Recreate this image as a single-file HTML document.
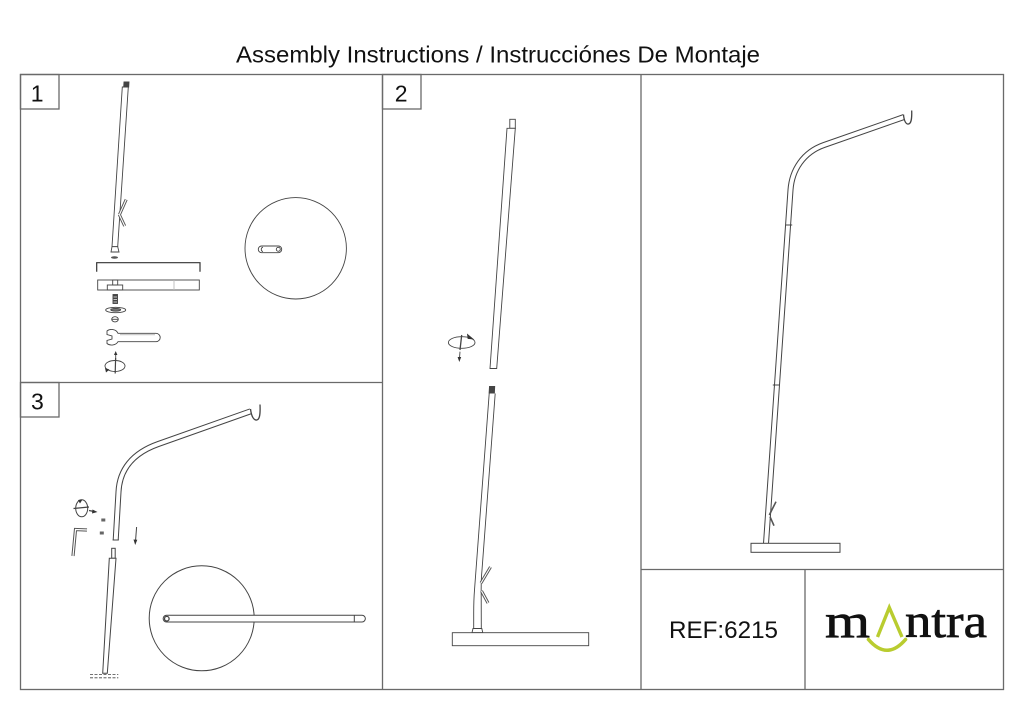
<!DOCTYPE html>
<html>
<head>
<meta charset="utf-8">
<style>
  html,body{margin:0;padding:0;background:#fff;}
  svg{display:block;}
  text{font-family:"Liberation Sans",Arial,sans-serif;}
</style>
</head>
<body>
<svg width="1024" height="708" viewBox="0 0 1024 708" xmlns="http://www.w3.org/2000/svg">
  <rect x="0" y="0" width="1024" height="708" fill="#fff"/>

  <!-- Title -->
  <text x="236" y="62.5" font-size="23.5" fill="#111" textLength="524" lengthAdjust="spacingAndGlyphs">Assembly Instructions / Instrucciónes De Montaje</text>

  <!-- Frame -->
  <g fill="none" stroke="#6a6a6a" stroke-width="1.3">
    <rect x="20.5" y="74.5" width="983" height="615"/>
    <line x1="382.5" y1="74" x2="382.5" y2="690"/>
    <line x1="20" y1="382.5" x2="383" y2="382.5"/>
    <line x1="641" y1="74" x2="641" y2="690"/>
    <line x1="641" y1="569.5" x2="1004" y2="569.5"/>
    <line x1="805" y1="569.5" x2="805" y2="690"/>
    <rect x="20.5" y="74.5" width="38.5" height="34.5"/>
    <rect x="382.5" y="74.5" width="38.5" height="34.5"/>
    <rect x="20.5" y="382.5" width="38.5" height="34.5"/>
  </g>
  <text x="37.2" y="101.7" font-size="23" text-anchor="middle" fill="#111">1</text>
  <text x="401.2" y="101.7" font-size="23" text-anchor="middle" fill="#111">2</text>
  <text x="37.4" y="409.7" font-size="23" text-anchor="middle" fill="#111">3</text>

  <!-- ================= PANEL 1 ================= -->
  <g stroke="#444" stroke-width="0.9" fill="none">
    <!-- threaded cap -->
    <polygon points="124,82 129,82 128.7,87 123.7,87" fill="#444"/>
    <!-- pole -->
    <polygon points="122.3,87 128.3,87 117.7,246.7 112,246.7" fill="#fff"/>
    <!-- foot -->
    <polygon points="112,246.7 117.7,246.7 119,252 111,252" fill="#fff"/>
    <!-- washer -->
    <ellipse cx="114.5" cy="257.5" rx="3.5" ry="1.3" fill="#555" stroke="none"/>
    <!-- bracket -->
    <path d="M96.7,271.7 V262.7 H200 V271.7" stroke="#333" stroke-width="1.2"/>
    <!-- base side view -->
    <rect x="97.7" y="280" width="101.6" height="10" fill="#fff"/>
    <rect x="107.3" y="285" width="15.4" height="5"/>
    <rect x="112.7" y="280" width="5" height="5"/>
    <line x1="174" y1="280" x2="174" y2="290" stroke="#bbb"/>
    <!-- bolt -->
    <rect x="113" y="294.5" width="4.5" height="9" fill="#444"/>
    <g stroke="#fff" stroke-width="0.7">
      <line x1="113.5" y1="297" x2="117" y2="297"/>
      <line x1="113.5" y1="299.5" x2="117" y2="299.5"/>
      <line x1="113.5" y1="302" x2="117" y2="302"/>
    </g>
    <!-- washer -->
    <ellipse cx="115.7" cy="310" rx="10" ry="2.7"/>
    <ellipse cx="115.7" cy="309.8" rx="5" ry="1.4" fill="#777"/>
    <!-- nut -->
    <ellipse cx="115" cy="319.3" rx="3.3" ry="2.6"/>
    <line x1="112" y1="319.3" x2="118" y2="319.3"/>
    <!-- wrench -->
    <path d="M118,333.3 L156,333.3 A4.2,4.2 0 0 1 156,341.7 L118,341.7 C116,345.5 110,346 107,343.5 L107,340.5 L112,339 L112,336 L107,334.5 L107,331 C110,328.5 116,329 118,333.3 Z" fill="#fff"/>
    <line x1="120" y1="334.8" x2="155" y2="334.8" stroke="#999" stroke-width="0.6"/>
    <!-- rotation symbol -->
    <line x1="115.7" y1="360" x2="115.7" y2="354"/>
    <polygon points="115.7,351 114,355 117.4,355" fill="#333" stroke="none"/>
    <ellipse cx="115" cy="366" rx="10" ry="5.5"/>
    <line x1="115.6" y1="358" x2="115.2" y2="373.5" stroke-width="1.2"/>
    <polygon points="105,368 109.5,369.5 106,372.5" fill="#333" stroke="none"/>
    <!-- top view circle -->
    <circle cx="295.7" cy="248.3" r="50.7"/>
    <rect x="258.3" y="246" width="23.4" height="6.7" rx="3.3" fill="#fff"/>
    <path d="M263,247.2 A2.2,2.2 0 0 0 263,251.5" />
    <circle cx="278.3" cy="249.3" r="2"/>
  </g>
  <!-- Y branch panel 1 -->
  <g fill="none" stroke-linecap="butt">
    <path d="M119.5,214.5 L126.2,199.5 M119.3,214.5 L124.7,226" stroke="#555" stroke-width="3"/>
    <path d="M119.5,214.5 L126.2,199.5 M119.3,214.5 L124.7,226" stroke="#fff" stroke-width="1.1"/>
  </g>

  <!-- ================= PANEL 2 ================= -->
  <g stroke="#444" stroke-width="0.9" fill="none">
    <rect x="509.8" y="119.3" width="5.5" height="9" fill="#fff"/>
    <polygon points="507,128.3 515.3,128.3 496.7,368.5 490,368.5" fill="#fff"/>
    <!-- rotation symbol -->
    <ellipse cx="461.7" cy="342.5" rx="13.3" ry="5.8"/>
    <line x1="461.7" y1="335" x2="460" y2="350" stroke-width="1.3"/>
    <polygon points="473,339 467.5,334.5 468,338.5" fill="#333" stroke="#333" stroke-width="0.8"/>
    <line x1="460" y1="351.7" x2="459.5" y2="358"/>
    <polygon points="459.3,362 457.6,357 461.2,357" fill="#333" stroke="none"/>
    <!-- lower threaded top -->
    <polygon points="489.5,386.5 494.7,386.5 494.4,393 489.1,393" fill="#444"/>
    <!-- lower tube -->
    <path d="M489.2,393.5 L474.5,590 Q473.7,600 473.7,613 L473.7,629"/>
    <path d="M495.2,393.5 L482,570 Q481,580 481.2,595 L481.3,629"/>
    <polygon points="473,628.5 481.8,628.5 482.8,632.7 472,632.7" fill="#fff"/>
    <rect x="452.3" y="632.7" width="136.4" height="13" fill="#fff"/>
  </g>
  <g fill="none">
    <path d="M481,583 L490.5,567 M481.5,591 L488,603" stroke="#555" stroke-width="3"/>
    <path d="M481,583 L490.5,567 M481.5,591 L488,603" stroke="#fff" stroke-width="1.1"/>
  </g>

  <!-- ================= PANEL 3 ================= -->
  <!-- curved arm -->
  <path d="M250.7,411.3 L158.3,444 C132.3,453.2 119.5,470 118.5,492 L115.7,540" fill="none" stroke="#444" stroke-width="6"/>
  <path d="M250.7,411.3 L158.3,444 C132.3,453.2 119.5,470 118.5,492 L115.7,540" fill="none" stroke="#fff" stroke-width="4"/>
  <g stroke="#444" stroke-width="1" fill="none">
    <line x1="112.6" y1="540" x2="118.8" y2="540"/>
    <!-- hook -->
    <path d="M250.5,409 C251.5,417 254,420.5 256.8,420 C259.5,419.5 260.5,415 260,404.5" stroke-width="1.3"/>
    <!-- rotation symbol -->
    <ellipse cx="81.7" cy="508.3" rx="6" ry="8.5"/>
    <line x1="73.5" y1="508.5" x2="89" y2="507" stroke-width="1.2"/>
    <line x1="89" y1="510.5" x2="94" y2="511.5" stroke-width="1.2"/>
    <polygon points="97.5,512 92.5,509.5 92,513.5" fill="#333" stroke="none"/>
    <polygon points="78,500 82.5,499.5 80,503.5" fill="#333" stroke="none"/>
    <!-- grub screws -->
    <rect x="101.3" y="518.5" width="4" height="3" fill="#666" stroke="none"/>
    <rect x="99.8" y="531.5" width="4" height="3" fill="#666" stroke="none"/>
    <!-- down arrow -->
    <line x1="136.6" y1="527" x2="135.6" y2="540"/>
    <polygon points="135.2,545 133.5,539.5 137.3,539.8" fill="#333" stroke="none"/>
    <!-- lower tube -->
    <rect x="111.7" y="548.3" width="3.5" height="10" fill="#fff"/>
    <polygon points="109.3,558.3 116,558.3 107.3,673.3 102.7,673.3" fill="#fff"/>
    <line x1="90" y1="674.5" x2="118.3" y2="674.5" stroke-dasharray="3,1.5" stroke-width="0.8"/>
    <line x1="90" y1="677.8" x2="118.3" y2="677.8" stroke-dasharray="3,1.5" stroke-width="0.8"/>
    <!-- circle + horizontal tube -->
    <circle cx="201.7" cy="618.3" r="52.5"/>
    <path d="M166.5,615.3 H362 A3.35,3.35 0 0 1 362,622 H166.5 A3.35,3.35 0 0 1 166.5,615.3 Z" fill="#fff"/>
    <line x1="354.3" y1="615.3" x2="354.3" y2="622"/>
    <circle cx="166.8" cy="618.7" r="2.3" stroke-width="1.3"/>
  </g>
  <!-- allen key -->
  <path d="M87,530 L75.5,529.5 L73,556" fill="none" stroke="#555" stroke-width="3.2" stroke-linejoin="miter"/>
  <path d="M87,530 L75.5,529.5 L73,556" fill="none" stroke="#fff" stroke-width="1.2"/>

  <!-- ================= RIGHT PANEL ================= -->
  <path d="M904,117 L824,145 C803.2,152.3 791.9,170 790.5,190 L766,543.5" fill="none" stroke="#444" stroke-width="6"/>
  <path d="M904,117 L824,145 C803.2,152.3 791.9,170 790.5,190 L766,543.5" fill="none" stroke="#fff" stroke-width="4"/>
  <g stroke="#444" stroke-width="1" fill="none">
    <path d="M903.5,114.5 C904,121 906,124.5 908.5,124 C911,123.5 912,120 911.7,110.5" stroke-width="1.3"/>
    <line x1="785.8" y1="225" x2="792.2" y2="225"/>
    <line x1="772.8" y1="385" x2="779" y2="385"/>
    <line x1="769.3" y1="515" x2="776" y2="501.7" stroke="#555" stroke-width="1.6"/>
    <line x1="770" y1="516.7" x2="774" y2="525.7" stroke="#555" stroke-width="1.6"/>
    <rect x="751" y="543.3" width="89" height="9" fill="#fff"/>
  </g>

  <!-- REF -->
  <text x="669" y="638" font-size="24" fill="#111" textLength="109" lengthAdjust="spacingAndGlyphs">REF:6215</text>

  <!-- mantra logo -->
  <g font-family="'Liberation Serif',serif" fill="#111" stroke="#111" stroke-width="0.7">
    <text x="825" y="637" font-size="48" textLength="45" lengthAdjust="spacingAndGlyphs" style="font-family:'Liberation Serif',serif">m</text>
    <text x="905" y="637" font-size="48" textLength="82" lengthAdjust="spacingAndGlyphs" style="font-family:'Liberation Serif',serif">ntra</text>
  </g>
  <path d="M877.5,637 L889.3,607.5 L902,637" fill="none" stroke="#b9cc2f" stroke-width="3.4" stroke-linejoin="miter"/>
  <path d="M868.5,639.5 Q887,661 905.5,639.5" fill="none" stroke="#b9cc2f" stroke-width="3.6" stroke-linecap="round"/>
</svg>
</body>
</html>
